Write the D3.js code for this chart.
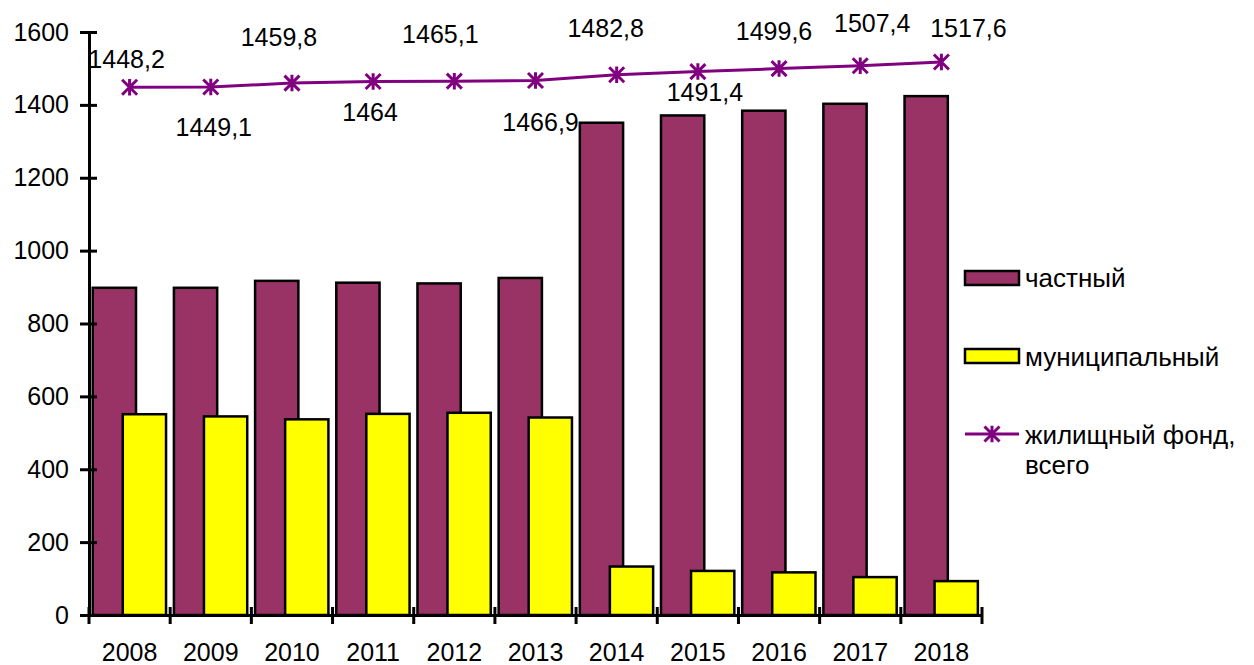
<!DOCTYPE html>
<html>
<head>
<meta charset="utf-8">
<script src="https://cdn.jsdelivr.net/npm/d3@7"></script>
<style>
  body { margin: 0; background: #fff; }
  svg text { font-family: "Liberation Sans", Arial, sans-serif; fill: #000; }
</style>
</head>
<body>
<div id="chart"></div>
<script>
const years = ["2008", "2009", "2010", "2011", "2012", "2013", "2014", "2015", "2016", "2017", "2018"];
const privateStock = [898, 898, 917, 912, 910, 925, 1351, 1371, 1384, 1403, 1424];
const municipalStock = [551, 545, 537, 552, 555, 542, 133, 121, 117, 104, 93];
const totalStock = [1448.2, 1449.1, 1459.8, 1464, 1465.1, 1466.9, 1482.8, 1491.4, 1499.6, 1507.4, 1517.6];
const yTicks = [0, 200, 400, 600, 800, 1000, 1200, 1400, 1600];
const seriesNames = ["частный", "муниципальный", "жилищный фонд,", "всего"];

// label placement relative to marker (like the hand-moved labels in the original)
const labelOffsets = [[-3, -28], [3, 40], [-13, -46], [-3, 31], [-14, -47], [5, 42],
    [-11, -46], [7, 21], [-5, -37], [12, -42], [27, -34]];

const width = 1254, height = 665;
const plot = {left: 89, right: 982, top: 32, bottom: 615};

const svg = d3.select("#chart")
    .append("svg")
    .attr("width", width)
    .attr("height", height);

const x = d3.scaleBand()
    .domain(years)
    .range([plot.left, plot.right])
    .padding(0);

const y = d3.scaleLinear()
    .domain([0, 1600])
    .range([plot.bottom, plot.top]);

const bw = x.bandwidth();
const barWidth = bw * 0.533;

// bars: private first, municipal overlaps it
svg.append("g")
    .selectAll("rect")
    .data(privateStock)
    .enter()
    .append("rect")
    .attr("x", (d, i) => x(years[i]) + bw * 0.046)
    .attr("y", d => y(d))
    .attr("width", barWidth)
    .attr("height", d => y(0) - y(d))
    .attr("fill", "#993366")
    .attr("stroke", "#000")
    .attr("stroke-width", 2.5);

svg.append("g")
    .selectAll("rect")
    .data(municipalStock)
    .enter()
    .append("rect")
    .attr("x", (d, i) => x(years[i]) + bw * 0.416)
    .attr("y", d => y(d))
    .attr("width", barWidth)
    .attr("height", d => y(0) - y(d))
    .attr("fill", "#ffff00")
    .attr("stroke", "#000")
    .attr("stroke-width", 2.5);

// y axis
const yAxis = svg.append("g")
    .attr("transform", `translate(${plot.left},0)`)
    .call(d3.axisLeft(y).tickValues(yTicks).tickFormat(d3.format("d"))
        .tickSize(9).tickPadding(11).tickSizeOuter(0));
yAxis.select(".domain").attr("stroke", "#000").attr("stroke-width", 3);
yAxis.selectAll(".tick line").attr("x1", 8).attr("stroke-width", 3);
yAxis.selectAll(".tick text").style("font-size", "25px");

// x axis
const xAxis = svg.append("g")
    .attr("transform", `translate(0,${plot.bottom})`)
    .call(d3.axisBottom(x).tickSize(0).tickPadding(28).tickSizeOuter(0));
xAxis.select(".domain").attr("stroke", "#000").attr("stroke-width", 3);
xAxis.selectAll(".tick text").style("font-size", "25px");

svg.append("g")
    .selectAll("line")
    .data(years.map(d => x(d)).concat([x.range()[1]]))
    .enter()
    .append("line")
    .attr("x1", d => d)
    .attr("x2", d => d)
    .attr("y1", plot.bottom - 8)
    .attr("y2", plot.bottom + 9)
    .attr("stroke", "#000")
    .attr("stroke-width", 3);

// total line
const cx = (d, i) => x(years[i]) + bw / 2;
const line = d3.line()
    .x(cx)
    .y(d => y(d));

svg.append("path")
    .datum(totalStock)
    .attr("d", line)
    .attr("fill", "none")
    .attr("stroke", "#800080")
    .attr("stroke-width", 3);

function starPath(s) {
    return `M${-s},${-s}L${s},${s}M${-s},${s}L${s},${-s}M0,${-s * 1.1}L0,${s * 1.1}`;
}

svg.append("g")
    .selectAll("path")
    .data(totalStock)
    .enter()
    .append("path")
    .attr("transform", (d, i) => `translate(${cx(d, i)},${y(d)})`)
    .attr("d", starPath(7.5))
    .attr("stroke", "#800080")
    .attr("stroke-width", 3)
    .attr("fill", "none");

svg.append("g")
    .selectAll("text")
    .data(totalStock)
    .enter()
    .append("text")
    .attr("x", (d, i) => cx(d, i) + labelOffsets[i][0])
    .attr("y", (d, i) => y(d) + labelOffsets[i][1])
    .attr("dy", "0.35em")
    .attr("text-anchor", "middle")
    .style("font-size", "25px")
    .text(d => String(d).replace(".", ","));

// legend
const legend = svg.append("g").attr("transform", "translate(965,0)");

legend.append("rect")
    .attr("x", 0).attr("y", 271).attr("width", 54).attr("height", 14)
    .attr("fill", "#993366").attr("stroke", "#000").attr("stroke-width", 2.5);
legend.append("text")
    .attr("x", 60).attr("y", 278).attr("dy", "0.35em")
    .style("font-size", "26px")
    .text(seriesNames[0]);

legend.append("rect")
    .attr("x", 0).attr("y", 349).attr("width", 54).attr("height", 14)
    .attr("fill", "#ffff00").attr("stroke", "#000").attr("stroke-width", 2.5);
legend.append("text")
    .attr("x", 60).attr("y", 357).attr("dy", "0.35em")
    .style("font-size", "26px")
    .text(seriesNames[1]);

legend.append("line")
    .attr("x1", 0).attr("x2", 54).attr("y1", 434).attr("y2", 434)
    .attr("stroke", "#800080").attr("stroke-width", 3);
legend.append("path")
    .attr("transform", "translate(27,434)")
    .attr("d", starPath(7.5))
    .attr("stroke", "#800080").attr("stroke-width", 3).attr("fill", "none");

// two-line legend entry as one wrapped text
const wrapped = legend.append("text")
    .attr("x", 60).attr("y", 444)
    .style("font-size", "26px");
wrapped.append("tspan").attr("x", 60).text(seriesNames[2]);
wrapped.append("tspan").attr("x", 60).attr("dy", 30).text(seriesNames[3]);
</script>
</body>
</html>
